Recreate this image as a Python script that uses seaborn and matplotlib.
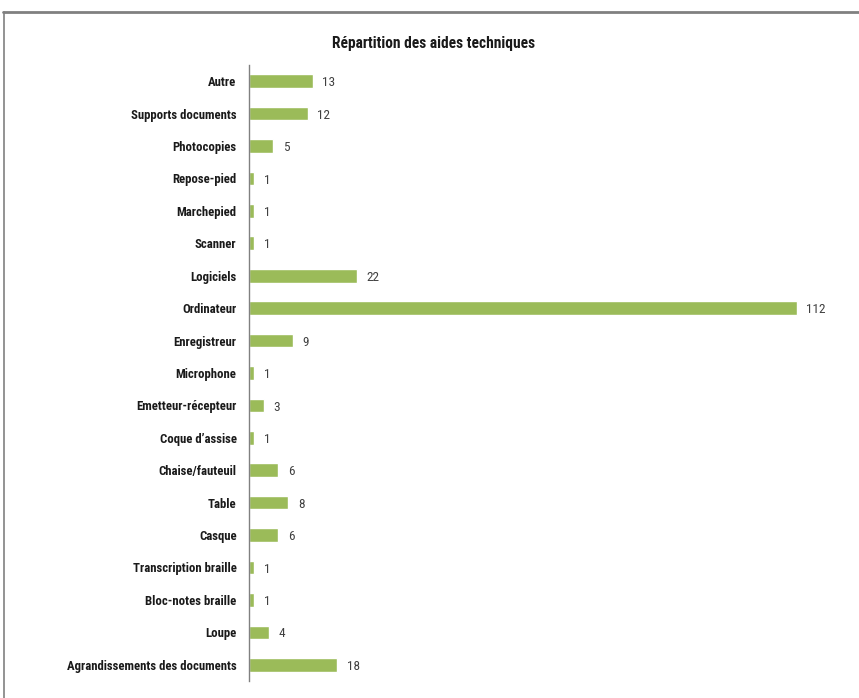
import matplotlib
matplotlib.use('Agg')
import matplotlib.pyplot as plt
import seaborn as sns
import pandas as pd
from matplotlib.lines import Line2D

# Data (top to bottom)
categories = ['Autre', 'Supports documents', 'Photocopies', 'Repose-pied', 'Marchepied',
              'Scanner', 'Logiciels', 'Ordinateur', 'Enregistreur', 'Microphone',
              'Emetteur-récepteur', "Coque d\u2019assise", 'Chaise/fauteuil', 'Table', 'Casque',
              'Transcription braille', 'Bloc-notes braille', 'Loupe', 'Agrandissements des documents']
values = [13, 12, 5, 1, 1, 1, 22, 112, 9, 1, 3, 1, 6, 8, 6, 1, 1, 4, 18]

df = pd.DataFrame({'aide': categories, 'nombre': values})

sns.set_theme(style='white')
plt.rcParams['font.family'] = ['Roboto Condensed', 'Liberation Sans', 'DejaVu Sans']

fig = plt.figure(figsize=(8.59, 6.98), dpi=100)
ax = fig.add_axes([0.2899, 0.0244, 0.683, 0.8825])

sns.barplot(data=df, x='nombre', y='aide', color='#9BBB59', saturation=1,
            width=0.42, ax=ax)

for i, v in enumerate(values):
    ax.text(v + 2, i + 0.05, str(v), va='center', ha='left', fontsize=9.5, color='#404040')

ax.set_xlim(0, 120)
ax.set_ylim(18.5, -0.5)
ax.set_xlabel('')
ax.set_ylabel('')
ax.set_xticks([])
for s in ['top', 'right', 'bottom']:
    ax.spines[s].set_visible(False)
ax.spines['left'].set_color('#808080')
ax.spines['left'].set_linewidth(1)
ax.tick_params(axis='y', length=0, pad=9)
for lab in ax.get_yticklabels():
    lab.set_fontweight('bold')
    lab.set_fontsize(9.2)
    lab.set_color('#1a1a1a')

fig.text(0.505, 0.938, 'Répartition des aides techniques', ha='center', va='center',
         fontsize=11.2, fontweight='bold', color='#1a1a1a')

# outer chart frame (top and left edges visible)
fig.add_artist(Line2D([0.004, 1.0], [1 - 12 / 698, 1 - 12 / 698], color='#808080', lw=2,
                      transform=fig.transFigure))
fig.add_artist(Line2D([0.005, 0.005], [1 - 12 / 698, 0.0], color='#808080', lw=1.2,
                      transform=fig.transFigure))

fig.savefig('out.png', dpi=100)
